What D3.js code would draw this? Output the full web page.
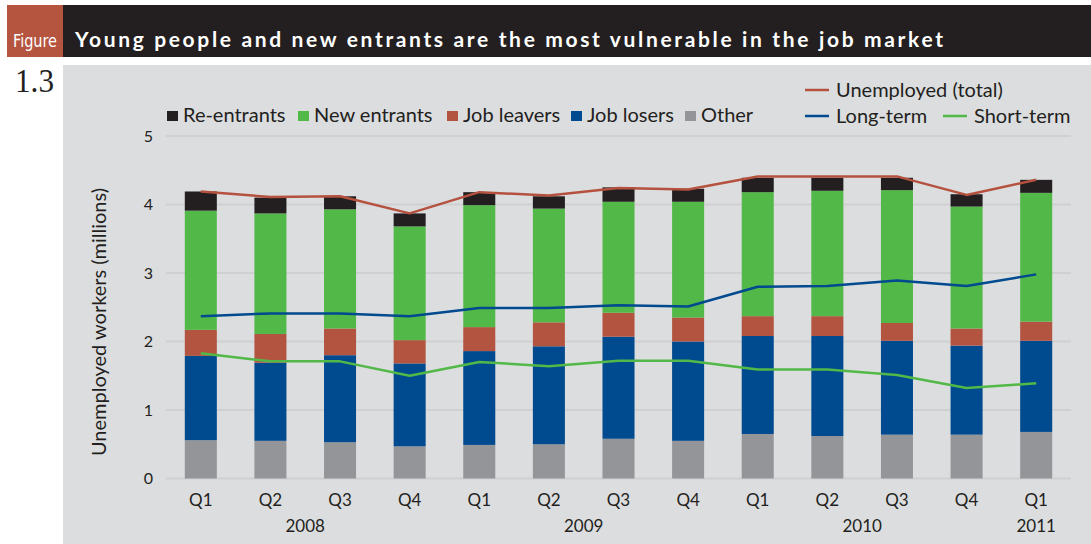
<!DOCTYPE html>
<html>
<head>
<meta charset="utf-8">
<script src="https://cdn.jsdelivr.net/npm/d3@7"></script>
<style>
  html, body { margin: 0; padding: 0; background: #ffffff; }
  svg { display: block; }
  text { font-family: Lato, "Open Sans", sans-serif; }
</style>
</head>
<body>
<svg id="chart" width="1091" height="544"></svg>
<script>
// ---- Data ----
const quarters = ["Q1","Q2","Q3","Q4","Q1","Q2","Q3","Q4","Q1","Q2","Q3","Q4","Q1"];
const yearLabels = ["2008","2009","2010","2011"];
const yearFirstIdx = [0, 4, 8, 12];
const yearLastIdx = [3, 7, 11, 12];
const yTicks = [0, 1, 2, 3, 4, 5];

const other       = [0.56,0.55,0.53,0.47,0.49,0.50,0.58,0.55,0.65,0.62,0.64,0.64,0.68];
const jobLosers   = [1.23,1.14,1.27,1.21,1.37,1.43,1.49,1.45,1.43,1.46,1.37,1.30,1.33];
const jobLeavers  = [0.38,0.42,0.39,0.34,0.35,0.35,0.35,0.35,0.29,0.29,0.26,0.25,0.28];
const newEntrants = [1.74,1.76,1.74,1.66,1.78,1.66,1.62,1.69,1.81,1.83,1.94,1.78,1.88];
const reEntrants  = [0.28,0.23,0.19,0.19,0.19,0.18,0.21,0.19,0.21,0.19,0.18,0.18,0.19];

const unemployedTotal = [4.19,4.11,4.12,3.87,4.18,4.13,4.24,4.22,4.41,4.41,4.41,4.14,4.36];
const longTerm        = [2.37,2.41,2.41,2.37,2.49,2.49,2.53,2.51,2.80,2.81,2.89,2.81,2.98];
const shortTerm       = [1.83,1.71,1.71,1.50,1.70,1.64,1.72,1.72,1.59,1.59,1.51,1.32,1.39];

const barSeriesNames = ["Other","Job losers","Job leavers","New entrants","Re-entrants"];
const barSeriesValues = [other, jobLosers, jobLeavers, newEntrants, reEntrants];
const barColors = ["#939598","#004a8f","#b35440","#52b848","#231f20"];

const lineNames = ["Unemployed (total)","Long-term","Short-term"];
const lineValues = [unemployedTotal, longTerm, shortTerm];
const lineColors = ["#b5513f","#004a8f","#52b848"];

// ---- Layout ----
const svg = d3.select("#chart");
const W = 1091, H = 544;
const panelBg = "#dcdddf";

// header
svg.append("rect").attr("x", 0).attr("y", 0).attr("width", W).attr("height", H).attr("fill", "#ffffff");
svg.append("rect").attr("x", 63).attr("y", 5).attr("width", W - 63).attr("height", 52).attr("fill", "#231f20");
svg.append("rect").attr("x", 7).attr("y", 5).attr("width", 56).attr("height", 52).attr("fill", "#b5543f");
svg.append("text").attr("x", 13).attr("y", 47)
  .attr("fill", "#ffffff")
  .style("font-family", "'Liberation Sans Narrow', 'DejaVu Sans Condensed', sans-serif")
  .style("font-size", "17px")
  .attr("textLength", 44).attr("lengthAdjust", "spacingAndGlyphs")
  .text("Figure");
svg.append("text").attr("x", 75).attr("y", 47)
  .attr("fill", "#ffffff")
  .style("font-weight", "bold").style("font-size", "21px")
  .attr("textLength", 868).attr("lengthAdjust", "spacing")
  .text("Young people and new entrants are the most vulnerable in the job market");

// figure number
svg.append("text").attr("x", 15).attr("y", 92)
  .attr("fill", "#231f20")
  .style("font-family", "'Liberation Serif', 'DejaVu Serif', serif")
  .style("font-size", "34px")
  .attr("textLength", 39).attr("lengthAdjust", "spacingAndGlyphs")
  .text("1.3");

// panel
svg.append("rect").attr("x", 63).attr("y", 65).attr("width", W - 63).attr("height", H - 65).attr("fill", panelBg);

// scales
const x = d3.scaleBand().domain(d3.range(quarters.length)).range([166, 1071])
  .paddingInner(0.54).paddingOuter(0.27);
const y = d3.scaleLinear().domain([0, 5]).range([478.5, 136]);
const cx = i => x(i) + x.bandwidth() / 2;

// gridlines
svg.append("g").selectAll("line").data(yTicks).join("line")
  .attr("x1", 166).attr("x2", 1071)
  .attr("y1", d => y(d)).attr("y2", d => y(d))
  .attr("stroke", "#cfd0d2").attr("stroke-width", 2);

// y axis labels
const yAxis = d3.axisLeft(y).tickValues(yTicks).tickSize(0).tickPadding(0).tickFormat(d3.format("d"));
const yg = svg.append("g").attr("transform", "translate(153,0)").call(yAxis);
yg.select(".domain").remove();
yg.selectAll("text").style("font-family", "Lato, sans-serif").style("font-size", "16px").attr("fill", "#231f20");

// y title
svg.append("text")
  .attr("transform", "translate(106,322) rotate(-90)")
  .attr("text-anchor", "middle")
  .attr("fill", "#231f20")
  .style("font-size", "20px")
  .text("Unemployed workers (millions)");

// stacked bars
const table = quarters.map((q, i) => {
  const row = { i };
  barSeriesNames.forEach((n, k) => row[n] = barSeriesValues[k][i]);
  return row;
});
const stacked = d3.stack().keys(barSeriesNames)(table);
svg.append("g").selectAll("g").data(stacked).join("g")
  .attr("fill", (d, k) => barColors[k])
  .selectAll("rect").data(d => d).join("rect")
  .attr("x", d => x(d.data.i))
  .attr("width", x.bandwidth())
  .attr("y", d => y(d[1]))
  .attr("height", d => y(d[0]) - y(d[1]));

// lines
const lineGen = d3.line().x((d, i) => cx(i)).y(d => y(d));
[2, 1, 0].forEach(k => {
  svg.append("path").datum(lineValues[k])
    .attr("d", lineGen)
    .attr("fill", "none")
    .attr("stroke", lineColors[k])
    .attr("stroke-width", 2.5)
    .attr("stroke-linejoin", "round");
});

// x axis labels
const xAxis = d3.axisBottom(x).tickSize(0).tickPadding(0).tickFormat(i => quarters[i]);
const xg = svg.append("g").attr("transform", "translate(0,506)").call(xAxis);
xg.select(".domain").remove();
xg.selectAll("text").attr("dy", 0).style("font-family", "Lato, sans-serif").style("font-size", "17px").attr("fill", "#231f20");

svg.append("g").selectAll("text").data(yearLabels).join("text")
  .attr("x", (d, k) => (cx(yearFirstIdx[k]) + cx(yearLastIdx[k])) / 2)
  .attr("y", 532)
  .attr("text-anchor", "middle")
  .attr("fill", "#231f20")
  .style("font-size", "17px")
  .text(d => d);

// legend: bars (order as in reference)
const legendBarOrder = [4, 3, 2, 1, 0];
const legendBarX = [167, 298, 447, 571, 685];
const lg = svg.append("g");
legendBarOrder.forEach((k, j) => {
  lg.append("rect").attr("x", legendBarX[j]).attr("y", 111).attr("width", 11).attr("height", 10).attr("fill", barColors[k]);
  lg.append("text").attr("x", legendBarX[j] + 16).attr("y", 122)
    .attr("fill", "#231f20").style("font-size", "20px").text(barSeriesNames[k]);
});

// legend: lines
const legendLinePos = [[805, 90], [805, 116], [943, 116]];
lineNames.forEach((n, k) => {
  const [lx, ly] = legendLinePos[k];
  lg.append("line").attr("x1", lx).attr("x2", lx + 24).attr("y1", ly).attr("y2", ly)
    .attr("stroke", lineColors[k]).attr("stroke-width", 2.5);
  lg.append("text").attr("x", lx + 31).attr("y", ly + 7)
    .attr("fill", "#231f20").style("font-size", "20px").text(n);
});
</script>
</body>
</html>
